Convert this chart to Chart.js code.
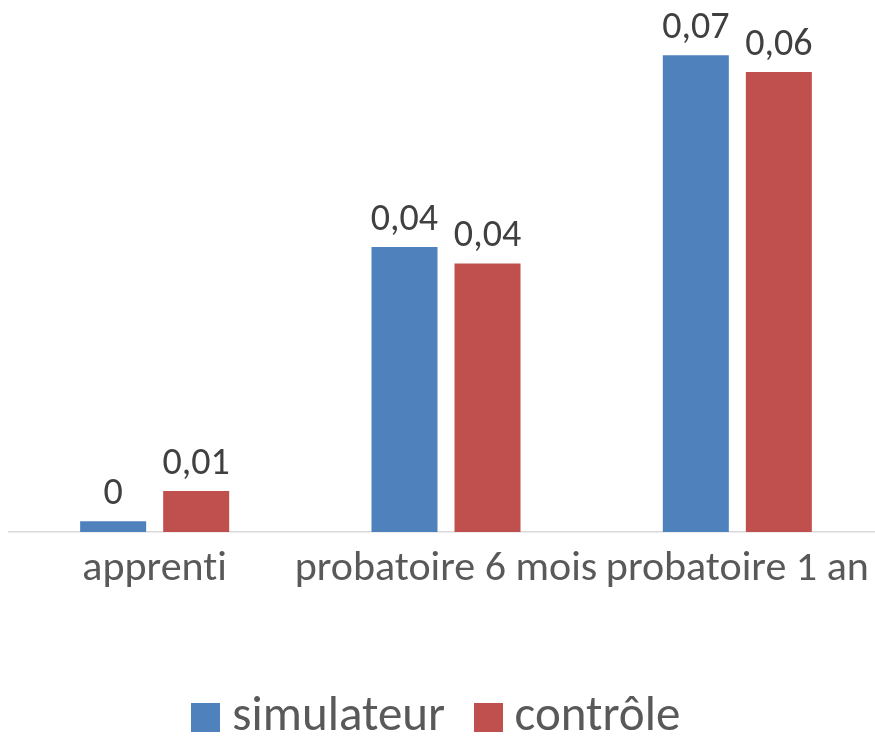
<!DOCTYPE html>
<html>
<head>
<meta charset="utf-8">
<script src="https://cdn.jsdelivr.net/npm/chart.js@4.4.1/dist/chart.umd.min.js"></script>
<style>
  html, body { margin: 0; padding: 0; background: #fff; overflow: hidden; }
  #wrap { width: 884px; height: 752px; }
</style>
</head>
<body>
<div id="wrap"><canvas id="chart"></canvas></div>
<script>
// data
const categories = ['apprenti', 'probatoire 6 mois', 'probatoire 1 an'];
const simulateur = [0.0015, 0.0396, 0.0662];
const controle = [0.0057, 0.0373, 0.0639];

const FONT = "Carlito, 'Open Sans', sans-serif";
const COLORS = ['#4f81bd', '#c0504d'];

// square legend swatches (lets the text sit close to the box like Excel)
const swatches = COLORS.map(c => {
    const cv = document.createElement('canvas');
    cv.width = 29; cv.height = 29;
    const g = cv.getContext('2d');
    g.fillStyle = c;
    g.fillRect(0, 0, 29, 29);
    return cv;
});

// no "ti" ligatures, like the original
const noLigatures = {
    id: 'noLigatures',
    beforeDraw(chart) { chart.ctx.letterSpacing = '0.01px'; }
};

// legend sits a bit left of centre in the original
const legendShift = {
    id: 'legendShift',
    afterLayout(chart) {
        if (!chart.legend) return;
        chart.legend.left -= 4;
        chart.legend.right -= 4;
    }
};

// value labels above bars, Excel style (0,04)
const barLabels = {
    id: 'barLabels',
    afterDatasetsDraw(chart) {
        const ctx = chart.ctx;
        ctx.save();
        ctx.font = '38px ' + FONT;
        ctx.fillStyle = '#404040';
        ctx.textAlign = 'center';
        ctx.textBaseline = 'alphabetic';
        chart.data.datasets.forEach((ds, i) => {
            chart.getDatasetMeta(i).data.forEach((bar, j) => {
                const v = Math.round(ds.data[j] * 100) / 100;
                ctx.fillText(String(v).replace('.', ','), bar.x, bar.y - 17);
            });
        });
        ctx.restore();
    }
};

new Chart(document.getElementById('chart'), {
    type: 'bar',
    data: {
        labels: categories,
        datasets: [
            { label: 'simulateur', data: simulateur, backgroundColor: COLORS[0], categoryPercentage: 0.57, barPercentage: 0.795 },
            { label: 'contrôle', data: controle, backgroundColor: COLORS[1], categoryPercentage: 0.57, barPercentage: 0.795 }
        ]
    },
    options: {
        responsive: true,
        maintainAspectRatio: false,
        animation: false,
        layout: { padding: { left: 9, right: 1, top: 10, bottom: 0 } },
        plugins: {
            tooltip: { enabled: false },
            legend: {
                position: 'bottom',
                labels: {
                    font: { family: FONT, size: 49 },
                    color: '#595959',
                    usePointStyle: true,
                    pointStyleWidth: 4,
                    padding: 41,
                    generateLabels(chart) {
                        const items = Chart.defaults.plugins.legend.labels.generateLabels(chart);
                        items.forEach((it, i) => { it.pointStyle = swatches[i]; });
                        return items;
                    }
                }
            }
        },
        scales: {
            x: {
                grid: { display: false, drawTicks: false },
                border: { color: '#d9d9d9', width: 1.5 },
                ticks: {
                    font: { family: FONT, size: 42 }, color: '#595959', padding: 12,
                    maxRotation: 0, minRotation: 0, autoSkip: false
                },
                afterFit(scale) { scale.height = 120; }
            },
            y: {
                display: false,
                min: 0,
                max: 0.0725
            }
        }
    },
    plugins: [noLigatures, legendShift, barLabels]
});
</script>
</body>
</html>
